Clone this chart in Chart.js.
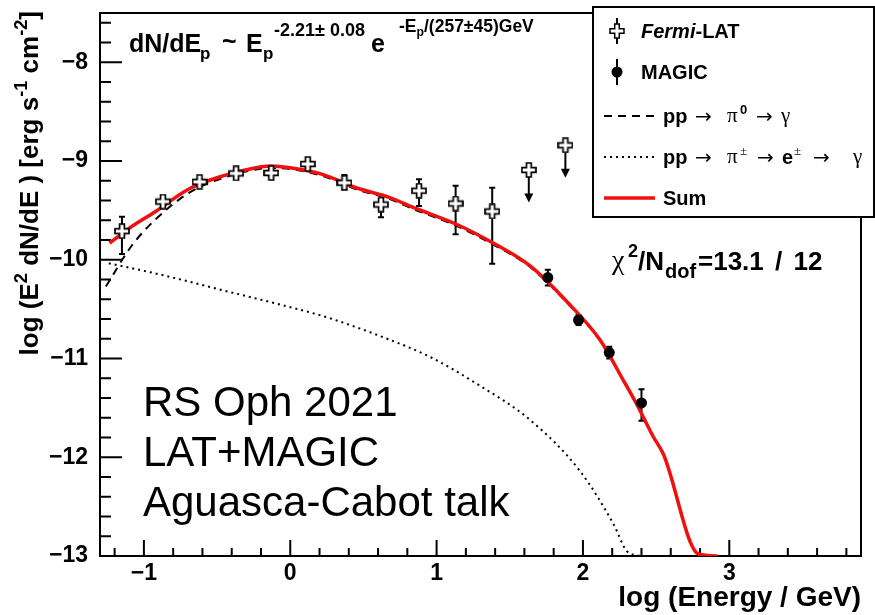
<!DOCTYPE html>
<html>
<head>
<meta charset="utf-8">
<script src="https://cdn.jsdelivr.net/npm/chart.js@4.4.1/dist/chart.umd.min.js"></script>
<style>
  html, body { margin: 0; padding: 0; background: #fff; }
  #wrap { position: relative; width: 875px; height: 615px; overflow: hidden; font-family: "Liberation Sans", Arial, sans-serif; }
  #chart { position: absolute; left: 0; top: 0; }
  .lbl { position: absolute; white-space: nowrap; font-weight: bold; color: #000; z-index: 3; }
  .lbl.thin { font-weight: normal; }
  .sf { font-family: "Liberation Serif", serif !important; font-weight: normal !important; }
  .ar { font-family: "DejaVu Sans", sans-serif !important; font-weight: normal !important; }
  .lbl sup { font-size: 0.7em; line-height: 0; vertical-align: 0.6em; }
  .lbl sub { font-size: 0.7em; line-height: 0; vertical-align: -0.3em; }
  #legend { position: absolute; left: 592px; top: 6px; width: 283px; height: 212px; border: 2px solid #000; box-sizing: border-box; background: #fff; z-index: 2; }
  #overlay { position: absolute; left: 0; top: 0; z-index: 3; pointer-events: none; }
</style>
</head>
<body>
<div id="wrap">
  <canvas id="chart" width="875" height="615"></canvas>
  <div id="legend"></div>
  <svg id="overlay" width="875" height="615">
    <line x1="617" y1="18" x2="617" y2="44" stroke="#000" stroke-width="2"/>
    <path d="M614.7,24 h4.6 v4.7 h4.7 v4.6 h-4.7 v4.7 h-4.6 v-4.7 h-4.7 v-4.6 h4.7 z" fill="#fff" stroke="#000" stroke-width="1.5"/>
    <line x1="617" y1="59" x2="617" y2="85" stroke="#000" stroke-width="2"/>
    <circle cx="617" cy="72" r="5.5" fill="#000"/>
    <line x1="604" y1="116" x2="655" y2="116" stroke="#000" stroke-width="2" stroke-dasharray="8,6"/>
    <line x1="604" y1="157" x2="655" y2="157" stroke="#000" stroke-width="2" stroke-dasharray="2,4"/>
    <line x1="604" y1="198" x2="655" y2="198" stroke="#f01010" stroke-width="3.5"/>
  </svg>
</div>
<script>
// Fermi-LAT flux points (log E, log E^2 dN/dE) with asymmetric errors
const fermiX = [-1.15, -0.87, -0.62, -0.37, -0.13, 0.12, 0.37, 0.62, 0.88, 1.13, 1.38];
const fermiY = [-9.71, -9.41, -9.21, -9.125, -9.12, -9.03, -9.22, -9.44, -9.30, -9.43, -9.51];
const fermiErrHi = [0.145, 0.03, 0.03, 0.03, 0.03, 0.03, 0.08, 0.10, 0.115, 0.18, 0.24];
const fermiErrLo = [0.23, 0.03, 0.03, 0.03, 0.03, 0.03, 0.065, 0.13, 0.155, 0.31, 0.53];

// Fermi-LAT upper limits
const ulX = [1.63, 1.88];
const ulY = [-9.09, -8.84];
const ulLen = 0.33;

// MAGIC points
const magicX = [1.76, 1.97, 2.18, 2.40];
const magicY = [-10.18, -10.61, -10.94, -11.45];
const magicErrHi = [0.08, 0.05, 0.06, 0.14];
const magicErrLo = [0.08, 0.05, 0.06, 0.18];

// model curves
const sumX = [-1.235, -1.1, -0.92, -0.69, -0.46, -0.235, -0.14, 0, 0.22, 0.45, 0.68, 0.84, 1.135, 1.386, 1.637, 1.888, 2.116, 2.276, 2.37, 2.48, 2.55, 2.79, 2.92];
const sumY = [-9.83, -9.68, -9.51, -9.28, -9.15, -9.067, -9.05, -9.067, -9.135, -9.27, -9.37, -9.47, -9.64, -9.83, -10.06, -10.42, -10.81, -11.22, -11.47, -11.79, -11.97, -12.98, -13.0];

const pi0X = [-1.26, -1.08, -0.92, -0.69, -0.46, -0.235, -0.14, 0, 0.22, 0.45, 0.68, 0.84, 1.135, 1.386, 1.637, 1.888, 2.116, 2.276, 2.37, 2.48, 2.55, 2.79, 2.92];
const pi0Y = [-10.27, -9.85, -9.59, -9.32, -9.17, -9.085, -9.07, -9.08, -9.15, -9.285, -9.385, -9.485, -9.655, -9.845, -10.07, -10.43, -10.815, -11.225, -11.475, -11.795, -11.975, -12.985, -13.0];

const pipmX = [-1.24, -0.886, -0.43, 0.027, 0.267, 0.61, 0.95, 1.29, 1.637, 1.98, 2.21, 2.30, 2.39];
const pipmY = [-10.035, -10.15, -10.32, -10.49, -10.59, -10.77, -10.98, -11.27, -11.62, -12.14, -12.68, -12.95, -13.0];

const xMin = -1.3, xMax = 3.9;
const yMin = -13, yMax = -7.5;

const pts = (xs, ys) => xs.map((x, i) => ({ x, y: ys[i] }));

function crossMarker(size) {
  const c = document.createElement("canvas");
  c.width = c.height = size;
  const g = c.getContext("2d");
  const m = size / 2, L = size / 2 - 1, t = 2.4;
  g.beginPath();
  g.moveTo(m - t, m - L); g.lineTo(m + t, m - L); g.lineTo(m + t, m - t);
  g.lineTo(m + L, m - t); g.lineTo(m + L, m + t); g.lineTo(m + t, m + t);
  g.lineTo(m + t, m + L); g.lineTo(m - t, m + L); g.lineTo(m - t, m + t);
  g.lineTo(m - L, m + t); g.lineTo(m - L, m - t); g.lineTo(m - t, m - t);
  g.closePath();
  g.fillStyle = "#fff"; g.fill();
  g.strokeStyle = "#000"; g.lineWidth = 1.7; g.stroke();
  return c;
}
const cross = crossMarker(16);

const frameAndTicks = {
  id: "frameAndTicks",
  beforeDatasetsDraw(chart) {
    const { ctx, chartArea: a, scales: { x, y } } = chart;
    ctx.save();
    ctx.strokeStyle = "#000";
    ctx.lineWidth = 2;
    ctx.beginPath();
    for (let i = 0; i <= 27; i++) {
      const v = yMin + i * 0.2;
      const p = y.getPixelForValue(v);
      const len = i % 5 === 0 ? 22 : 11;
      ctx.moveTo(a.left, p); ctx.lineTo(a.left + len, p);
    }
    for (let i = 0; i <= 25; i++) {
      const v = -1.2 + i * 0.2;
      const p = x.getPixelForValue(v);
      const len = Math.abs(v - Math.round(v)) < 1e-6 ? 16 : 8;
      ctx.moveTo(p, a.bottom); ctx.lineTo(p, a.bottom - len);
    }
    ctx.stroke();
    ctx.strokeRect(a.left, a.top, a.right - a.left, a.bottom - a.top);

    const bar = (xv, lo, hi) => {
      const px = x.getPixelForValue(xv);
      const p1 = y.getPixelForValue(lo), p2 = y.getPixelForValue(hi);
      ctx.beginPath();
      ctx.moveTo(px, p1); ctx.lineTo(px, p2);
      ctx.moveTo(px - 3, p1); ctx.lineTo(px + 3, p1);
      ctx.moveTo(px - 3, p2); ctx.lineTo(px + 3, p2);
      ctx.stroke();
    };
    fermiX.forEach((v, i) => bar(v, fermiY[i] - fermiErrLo[i], fermiY[i] + fermiErrHi[i]));
    magicX.forEach((v, i) => bar(v, magicY[i] - magicErrLo[i], magicY[i] + magicErrHi[i]));
    ulX.forEach((v, i) => {
      const px = x.getPixelForValue(v);
      const p1 = y.getPixelForValue(ulY[i]);
      const p2 = y.getPixelForValue(ulY[i] - ulLen);
      ctx.beginPath(); ctx.moveTo(px, p1); ctx.lineTo(px, p2 - 4); ctx.stroke();
      ctx.beginPath();
      ctx.moveTo(px - 4.5, p2 - 9); ctx.lineTo(px + 4.5, p2 - 9); ctx.lineTo(px, p2);
      ctx.closePath(); ctx.fillStyle = "#000"; ctx.fill();
    });
    ctx.restore();
  }
};

Chart.defaults.font.family = "'Liberation Sans', Arial, sans-serif";

const lineStyle = { showLine: true, pointRadius: 0, cubicInterpolationMode: "monotone", fill: false };
const intOnly = s => { s.ticks = s.ticks.filter(t => Math.abs(t.value - Math.round(t.value)) < 1e-6); };

new Chart(document.getElementById("chart"), {
  type: "scatter",
  data: {
    datasets: [
      { label: "MAGIC", data: pts(magicX, magicY), pointStyle: "circle", pointRadius: 5.5, backgroundColor: "#000", borderColor: "#000", borderWidth: 0 },
      { label: "Fermi-LAT", data: pts(fermiX, fermiY), pointStyle: cross },
      { label: "Fermi-LAT UL", data: pts(ulX, ulY), pointStyle: cross },
      { label: "Sum", data: pts(sumX, sumY), ...lineStyle, borderColor: "#f01010", borderWidth: 3.5 },
      { label: "pi0", data: pts(pi0X, pi0Y), ...lineStyle, borderColor: "#000", borderWidth: 2, borderDash: [8, 6] },
      { label: "pipm", data: pts(pipmX, pipmY), ...lineStyle, borderColor: "#000", borderWidth: 2, borderDash: [2, 4] }
    ]
  },
  options: {
    responsive: false,
    animation: false,
    events: [],
    layout: { padding: { top: 13, right: 14, left: 0, bottom: 0 } },
    plugins: { legend: { display: false }, tooltip: { enabled: false } },
    scales: {
      x: {
        type: "linear", min: xMin, max: xMax,
        grid: { display: false, drawTicks: false, tickLength: 0 },
        border: { display: false },
        ticks: {
          stepSize: 1, includeBounds: false, padding: 4, color: "#000", maxRotation: 0, autoSkip: false,
          font: { size: 23, weight: "bold" },
          callback: v => (Math.round(v) < 0 ? "\u2212" + Math.abs(Math.round(v)) : String(Math.round(v)))
        },
        afterBuildTicks: intOnly,
        afterFit: s => { s.height = 59; s.paddingLeft = 0; s.paddingRight = 0; }
      },
      y: {
        type: "linear", min: yMin, max: yMax,
        grid: { display: false, drawTicks: false, tickLength: 0 },
        border: { display: false },
        ticks: {
          stepSize: 1, includeBounds: false, padding: 12, color: "#000", autoSkip: false,
          font: { size: 23, weight: "bold" },
          callback: v => "\u2212" + Math.abs(Math.round(v))
        },
        afterBuildTicks: intOnly,
        afterFit: s => { s.width = 100; s.paddingTop = 0; s.paddingBottom = 0; }
      }
    }
  },
  plugins: [frameAndTicks]
});

// text overlays
const wrap = document.getElementById("wrap");
function txt(html, x, base, size, extra) {
  const d = document.createElement("div");
  d.className = "lbl";
  d.style.left = x + "px";
  d.style.top = (base - 0.8465 * size) + "px";
  d.style.fontSize = size + "px";
  d.style.lineHeight = size + "px";
  d.innerHTML = html;
  if (extra) Object.assign(d.style, extra);
  wrap.appendChild(d);
  return d;
}

// fit formula
txt("dN/dE", 129, 52, 25);
txt("p", 200, 59, 17);
txt("~", 222, 50, 25);
txt("E", 246, 52, 25);
txt("p", 263, 59, 17);
txt("-2.21\u00b1 0.08", 274, 36, 18);
txt("e", 371, 52, 25);
txt("-E<sub>p</sub>/(257\u00b145)GeV", 399, 33, 17.5);

// chi2
txt("\u03c7", 612, 270, 28, { fontFamily: "'Liberation Serif', serif", fontWeight: "normal" });
txt("2", 628, 257, 18);
txt("/N", 638, 270, 26);
txt("dof", 665, 278, 20);
txt("=13.1 / 12", 698, 270, 26, { wordSpacing: "4px" });

// legend entries
txt("<i>Fermi</i>-LAT", 641, 38, 20);
txt("MAGIC", 641, 79, 20);
const arrowRow = (base, parts) => parts.forEach(([h, x, sz, cls, dy]) => {
  const d = txt(h, x, base + (dy || 0), sz);
  if (cls) d.classList.add(cls);
});
arrowRow(123, [["pp", 663, 20], ["\u2192", 695, 20, "ar"], ["\u03c0", 727, 21, "sf"], ["0", 740, 13, null, -9], ["\u2192", 756, 20, "ar"], ["\u03b3", 781, 21, "sf"]]);
arrowRow(164, [["pp", 663, 20], ["\u2192", 695, 20, "ar"], ["\u03c0", 727, 21, "sf"], ["\u00b1", 740, 13, "sf", -9], ["\u2192", 757, 20, "ar"], ["e", 782, 20], ["\u00b1", 794, 13, "sf", -9], ["\u2192", 813, 20, "ar"], ["\u03b3", 853, 21, "sf"]]);
txt("Sum", 663, 205, 20);

// big annotation
const big = txt("RS Oph 2021<br>LAT+MAGIC<br>Aguasca-Cabot talk", 143, 417, 42, { lineHeight: "50px" });
big.classList.add("thin");
big.style.top = (417 - 25 - 0.8465 * 42 + 21) + "px";

// axis titles
const xt = txt("log (Energy / GeV)", 0, 607, 28);
xt.style.left = "";
xt.style.right = (875 - 861) + "px";

const yt = txt("log (E<sup>2</sup> dN/dE ) [erg s<sup>-1</sup> cm<sup>-2</sup>]", 13, 0, 26, {
  width: "365px", textAlign: "right", lineHeight: "32px", transformOrigin: "0 0", transform: "rotate(-90deg)"
});
yt.style.top = (11 + 365) + "px";
</script>
</body>
</html>
